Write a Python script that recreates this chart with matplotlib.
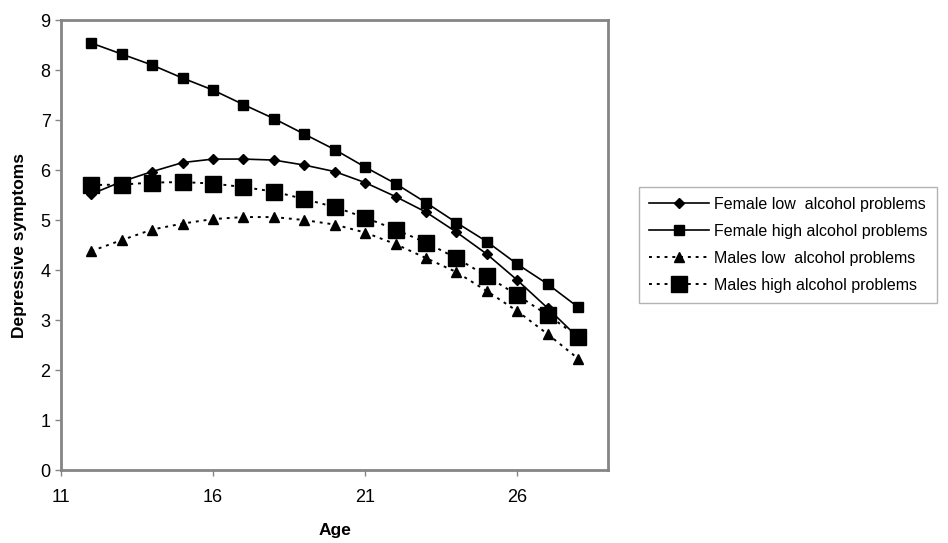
import matplotlib
matplotlib.use('Agg')
import matplotlib.pyplot as plt

plt.rcParams['font.family'] = ['Liberation Sans', 'DejaVu Sans']

ages = list(range(12, 29))

female_low = [5.52, 5.77, 5.97, 6.15, 6.22, 6.22, 6.20, 6.10, 5.97, 5.75,
              5.47, 5.16, 4.76, 4.32, 3.80, 3.24, 2.65]
female_high = [8.54, 8.32, 8.10, 7.84, 7.60, 7.31, 7.03, 6.72, 6.41, 6.06,
               5.73, 5.35, 4.95, 4.57, 4.12, 3.72, 3.26]
males_low = [4.38, 4.60, 4.81, 4.93, 5.02, 5.06, 5.06, 5.00, 4.91, 4.75,
             4.52, 4.24, 3.96, 3.58, 3.18, 2.72, 2.23]
males_high = [5.70, 5.71, 5.75, 5.76, 5.73, 5.66, 5.57, 5.42, 5.26, 5.05,
              4.81, 4.55, 4.24, 3.88, 3.50, 3.10, 2.67]

labels = ['Female low  alcohol problems', 'Female high alcohol problems',
          'Males low  alcohol problems', 'Males high alcohol problems']

fig = plt.figure(figsize=(9.48, 5.43), dpi=100)
ax = fig.add_axes([0.0643, 0.1344, 0.5775, 0.8286])

ax.plot(ages, female_low, color='black', lw=1.2, ls='-', marker='D', ms=5.5, label=labels[0])
ax.plot(ages, female_high, color='black', lw=1.2, ls='-', marker='s', ms=7, label=labels[1])
ax.plot(ages, males_low, color='black', lw=1.4, ls=(0, (1.5, 2.5)), marker='^', ms=7.5, label=labels[2])
ax.plot(ages, males_high, color='black', lw=1.4, ls=(0, (1.5, 2.5)), marker='s', ms=11.5, label=labels[3])

ax.set_xlim(11, 29)
ax.set_ylim(0, 9)
ax.set_xticks([11, 16, 21, 26])
ax.set_yticks(range(0, 10))

for s in ax.spines.values():
    s.set_color('#858585')
    s.set_linewidth(2)
ax.tick_params(colors='#858585', labelcolor='black', labelsize=13, length=4, width=1)
ax.tick_params(axis='x', pad=10)

ax.set_xlabel('Age', fontsize=12.5, fontweight='bold', labelpad=12)
ax.set_ylabel('Depressive symptoms', fontsize=12.5, fontweight='bold', labelpad=10)

leg = fig.legend(loc='center', bbox_to_anchor=(788 / 948, 1 - 245 / 543),
                 fontsize=11.5, handlelength=3.8, handletextpad=0.3, frameon=True,
                 fancybox=False, borderpad=0.6, labelspacing=0.75)
leg.get_frame().set_edgecolor('#a0a0a0')
leg.get_frame().set_linewidth(1)

fig.savefig('out.png', dpi=100)
